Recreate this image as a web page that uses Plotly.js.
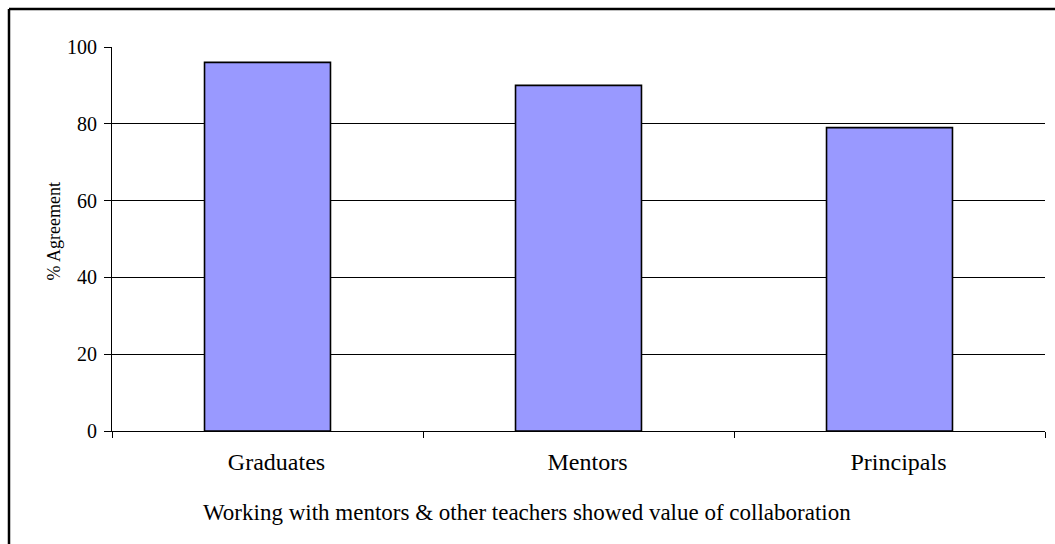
<!DOCTYPE html>
<html>
<head>
<meta charset="utf-8">
<script src="https://cdn.plot.ly/plotly-3.0.1.min.js"></script>
<style>html,body{margin:0;padding:0;background:#fff;}#chart{width:1055px;height:544px;}</style>
</head>
<body>
<div id="chart"></div>
<script>
const categories = ["Graduates", "Mentors", "Principals"];
const agreement = [96, 90, 79];
const yTicks = [0, 20, 40, 60, 80, 100];
const xTitle = "Working with mentors &amp; other teachers showed value of collaboration";
const yTitle = "% Agreement";

const font = "'Liberation Serif', 'Times New Roman', serif";

const trace = {
  type: "bar",
  x: categories,
  y: agreement,
  marker: {color: "#9999FF", line: {color: "#000000", width: 1.6}},
  hoverinfo: "skip"
};

const layout = {
  width: 1055,
  height: 544,
  margin: {l: 112, r: 10, t: 47, b: 113},
  paper_bgcolor: "#ffffff",
  plot_bgcolor: "#ffffff",
  showlegend: false,
  bargap: 0.595,
  font: {family: font, color: "#000000"},
  xaxis: {
    type: "category",
    tickson: "boundaries",
    ticks: "outside",
    ticklen: 6,
    tickcolor: "#000000",
    tickwidth: 1,
    showline: true,
    linecolor: "#000000",
    linewidth: 1,
    showgrid: false,
    tickfont: {family: font, size: 24, color: "#000000"},
    ticklabelstandoff: 9,
    ticklabelshift: 9
  },
  yaxis: {
    range: [0, 100],
    tickvals: yTicks,
    ticks: "outside",
    ticklen: 7,
    tickcolor: "#000000",
    tickwidth: 1,
    showline: true,
    linecolor: "#000000",
    linewidth: 1,
    showgrid: true,
    gridcolor: "#000000",
    gridwidth: 1,
    zeroline: false,
    tickfont: {family: font, size: 20, color: "#000000"},
    ticklabelstandoff: 3
  },
  annotations: [
    {text: xTitle, xref: "paper", yref: "paper", x: 0.4448, y: -0.211,
     xanchor: "center", yanchor: "middle", showarrow: false,
     font: {family: font, size: 23, color: "#000000"}},
    {text: yTitle, xref: "paper", yref: "paper", x: -0.0632, y: 0.5195,
     xanchor: "center", yanchor: "middle", showarrow: false, textangle: -90,
     font: {family: font, size: 18, color: "#000000"}}
  ],
  shapes: [
    {type: "line", xref: "paper", yref: "paper", x0: -0.1104, x1: 1.02, y0: 1.0990, y1: 1.0990,
     line: {color: "#000000", width: 2.5}},
    {type: "line", xref: "paper", yref: "paper", x0: -0.1104, x1: -0.1104, y0: 1.0990, y1: -0.32,
     line: {color: "#000000", width: 2.5}}
  ]
};

Plotly.newPlot("chart", [trace], layout, {displayModeBar: false, staticPlot: true});
</script>
</body>
</html>
